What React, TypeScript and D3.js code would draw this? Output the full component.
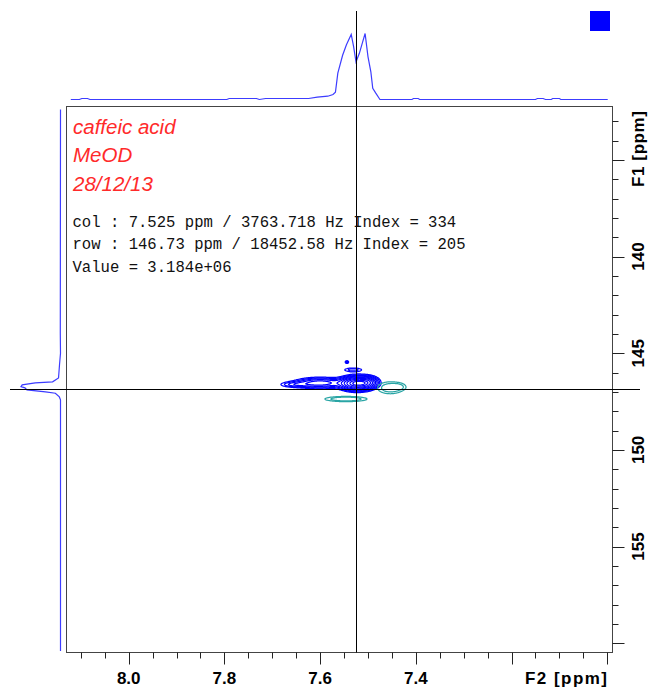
import React, { useMemo } from "react";
import * as d3 from "d3";

// ---- data ----
const titleLines = ["caffeic acid", "MeOD", "28/12/13"];
const infoLines = [
  "col : 7.525 ppm / 3763.718 Hz Index = 334",
  "row : 146.73 ppm / 18452.58 Hz Index = 205",
  "Value = 3.184e+06",
];
const f2Domain = [8.13, 6.989];
const f1Domain = [132.24, 160.48];
const cursorF2 = 7.525;
const cursorF1 = 146.86;

const xTickValues = [8.0, 7.8, 7.6, 7.4];
const xTickLabels = ["8.0", "7.8", "7.6", "7.4"];
const yTickValues = [140, 145, 150, 155];
const yTickLabels = ["140", "145", "150", "155"];

// top (F2) projection
const topF2 = [8.121, 8.103, 8.098, 8.086, 8.081, 7.795, 7.79, 7.733, 7.727, 7.714, 7.624, 7.606, 7.584, 7.573, 7.568, 7.563, 7.553, 7.545, 7.535, 7.53, 7.525, 7.518, 7.512, 7.506, 7.5, 7.494, 7.49, 7.484, 7.475, 7.408, 7.405, 7.395, 7.392, 7.15, 7.146, 7.134, 7.129, 7.117, 7.114, 7.1, 7.097, 6.999];
const topI = [0, 0, 0.015, 0.015, 0, 0, 0.015, 0.015, 0, 0.015, 0.015, 0.035, 0.05, 0.075, 0.11, 0.4, 0.67, 0.83, 0.985, 0.8, 0.57, 0.7, 0.85, 1.0, 0.65, 0.42, 0.17, 0.1, 0, 0, 0.015, 0.015, 0, 0, 0.015, 0.015, 0, 0, 0.015, 0.015, 0, 0];

// left (F1) projection
const leftF1 = [132.4, 144.0, 145.0, 145.6, 146.28, 146.48, 146.53, 146.64, 146.73, 146.79, 146.9, 147.0, 147.07, 147.26, 147.41, 160.4];
const leftI = [0, 0.005, 0, 0.025, 0.05, 0.2, 0.64, 0.97, 1.0, 0.9, 0.85, 0.38, 0.13, 0.03, 0, 0];

// positive cross peaks (F2 ppm, F1 ppm, widths in ppm, amplitude)
const posF2 = [7.523, 7.5, 7.6, 7.652, 7.531, 7.544];
const posF1 = [146.56, 146.5, 146.54, 146.62, 145.86, 145.46];
const posW2 = [0.019, 0.012, 0.03, 0.021, 0.0146, 0.003];
const posW1 = [0.195, 0.17, 0.16, 0.095, 0.08, 0.06];
const posAmp = [1, 0.3, 0.3, 0.12, 0.1, 0.1];
const posLevels = [0.05, 0.08, 0.12, 0.17, 0.24, 0.33, 0.45, 0.6, 0.78, 0.93];

// negative peaks
const negF2 = [7.454, 7.436, 7.546];
const negF1 = [146.79, 146.74, 147.37];
const negW2 = [0.016, 0.01, 0.026];
const negW1 = [0.19, 0.12, 0.08];
const negAmp = [0.22, 0.12, 0.25];
const negLevels = [0.06, 0.12];

const gridF2 = [7.72, 7.36];
const gridF1 = [145.0, 148.0];

export default function App() {
  const W = 651;
  const H = 691;
  const x = d3.scaleLinear().domain(f2Domain).range([66.5, 612.5]);
  const y = d3.scaleLinear().domain(f1Domain).range([106.5, 652.5]);
  const topY = d3.scaleLinear().domain([0, 1]).range([99.5, 33.5]);
  const leftX = d3.scaleLinear().domain([0, 1]).range([60.5, 21]);

  const topLine = d3
    .line<number>()
    .x((_, i) => x(topF2[i]))
    .y((d) => topY(d))(topI);
  const leftLine = d3
    .line<number>()
    .x((d) => leftX(d))
    .y((_, i) => y(leftF1[i]))(leftI);

  const contours = useMemo(() => {
    const nx = 260;
    const ny = 140;
    const d2 = (gridF2[1] - gridF2[0]) / nx;
    const d1 = (gridF1[1] - gridF1[0]) / ny;
    const pos = new Array(nx * ny);
    const neg = new Array(nx * ny);
    for (let j = 0; j < ny; j++) {
      const f1 = gridF1[0] + (j + 0.5) * d1;
      for (let i = 0; i < nx; i++) {
        const f2 = gridF2[0] + (i + 0.5) * d2;
        let p = 0;
        for (let k = 0; k < posF2.length; k++) {
          const a = (f2 - posF2[k]) / posW2[k];
          const b = (f1 - posF1[k]) / posW1[k];
          p += posAmp[k] * Math.exp(-0.5 * (a * a + b * b));
        }
        let n = 0;
        for (let k = 0; k < negF2.length; k++) {
          const a = (f2 - negF2[k]) / negW2[k];
          const b = (f1 - negF1[k]) / negW1[k];
          n += negAmp[k] * Math.exp(-0.5 * (a * a + b * b));
        }
        pos[j * nx + i] = p;
        neg[j * nx + i] = n;
      }
    }
    const proj = d3.geoTransform({
      point(px: number, py: number) {
        // @ts-ignore
        this.stream.point(x(gridF2[0] + px * d2), y(gridF1[0] + py * d1));
      },
    });
    const path = d3.geoPath(proj);
    const gen = d3.contours().size([nx, ny]);
    const posPaths = gen.thresholds(posLevels)(pos).map((c) => path(c) || "");
    const negPaths = gen.thresholds(negLevels)(neg).map((c) => path(c) || "");
    return { posPaths, negPaths };
  }, []);

  const xMinor = d3.range(140, 163).map((i) => ({ v: i * 0.05, major: i % 4 === 0 }));
  const yMinor = d3.range(133, 161).map((v) => ({ v, major: v % 5 === 0 }));

  const bx0 = 66.5, bx1 = 612.5, by0 = 106.5, by1 = 652.5;
  const cx = Math.round(x(cursorF2)) + 0.5;
  const cy = Math.round(y(cursorF1)) + 0.5;

  return (
    <svg
      width={W}
      height={H}
      style={{ position: "absolute", left: 0, top: 0, background: "#fff" }}
    >
      <rect x={0} y={0} width={W} height={H} fill="#fff" />
      {/* blue square */}
      <rect x={590} y={11} width={20} height={20} fill="#0000ff" />

      {/* projections */}
      <path d={topLine || ""} fill="none" stroke="#3c3cff" strokeWidth={1.2} />
      <path d={leftLine || ""} fill="none" stroke="#3c3cff" strokeWidth={1.2} />

      {/* box */}
      <rect x={bx0} y={by0} width={bx1 - bx0} height={by1 - by0} fill="none" stroke="#444" strokeWidth={1} />

      {/* contours */}
      <g fill="none" strokeWidth={1.25}>
        {contours.posPaths.map((d, i) => (
          <path key={"p" + i} d={d} stroke="#0000ff" />
        ))}
        {contours.negPaths.map((d, i) => (
          <path key={"n" + i} d={d} stroke="#2aa5a5" />
        ))}
      </g>

      {/* bottom axis ticks */}
      {xMinor.map((t, i) => {
        const px = Math.round(x(t.v)) + 0.5;
        return (
          <line key={"xt" + i} x1={px} x2={px} y1={by1} y2={by1 + (t.major ? 12 : 6)} stroke="#222" strokeWidth={1} />
        );
      })}
      {xTickValues.map((v, i) => (
        <text
          key={"xl" + i}
          x={x(v)}
          y={684}
          textAnchor="middle"
          fontFamily="'Liberation Sans', Arial, sans-serif"
          fontWeight="bold"
          fontSize={17}
          fill="#000"
        >
          {xTickLabels[i]}
        </text>
      ))}
      <text
        x={607}
        y={684}
        textAnchor="end"
        fontFamily="'Liberation Sans', Arial, sans-serif"
        fontWeight="bold"
        fontSize={17}
        fill="#000"
        textLength={82}
        lengthAdjust="spacing"
      >
        F2 [ppm]
      </text>

      {/* right axis ticks */}
      {yMinor.map((t, i) => {
        const py = Math.round(y(t.v)) + 0.5;
        return (
          <line key={"yt" + i} x1={bx1} x2={bx1 + (t.major ? 12 : 6)} y1={py} y2={py} stroke="#222" strokeWidth={1} />
        );
      })}
      {yTickValues.map((v, i) => (
        <text
          key={"yl" + i}
          transform={`translate(643.5,${y(v)}) rotate(-90)`}
          textAnchor="middle"
          fontFamily="'Liberation Sans', Arial, sans-serif"
          fontWeight="bold"
          fontSize={17}
          fill="#000"
        >
          {yTickLabels[i]}
        </text>
      ))}
      <text
        transform={`translate(643.5,111) rotate(-90)`}
        textAnchor="end"
        fontFamily="'Liberation Sans', Arial, sans-serif"
        fontWeight="bold"
        fontSize={17}
        fill="#000"
        textLength={76}
        lengthAdjust="spacing"
      >
        F1 [ppm]
      </text>

      {/* crosshair */}
      <line x1={cx} x2={cx} y1={11} y2={by1} stroke="#000" strokeWidth={1} />
      <line x1={10} x2={640} y1={cy} y2={cy} stroke="#000" strokeWidth={1} />

      {/* title text */}
      {titleLines.map((t, i) => (
        <text
          key={"t" + i}
          x={73}
          y={133.5 + i * 28.5}
          fontFamily="'Liberation Sans', Arial, sans-serif"
          fontStyle="italic"
          fontSize={20.5}
          fill="#ff2a2a"
        >
          {t}
        </text>
      ))}
      {infoLines.map((t, i) => (
        <text
          key={"i" + i}
          x={72.5}
          y={226.5 + i * 22.5}
          fontFamily="'Liberation Mono', 'Courier New', monospace"
          fontSize={15.6}
          fill="#111"
          style={{ whiteSpace: "pre" }}
        >
          {t}
        </text>
      ))}
    </svg>
  );
}
